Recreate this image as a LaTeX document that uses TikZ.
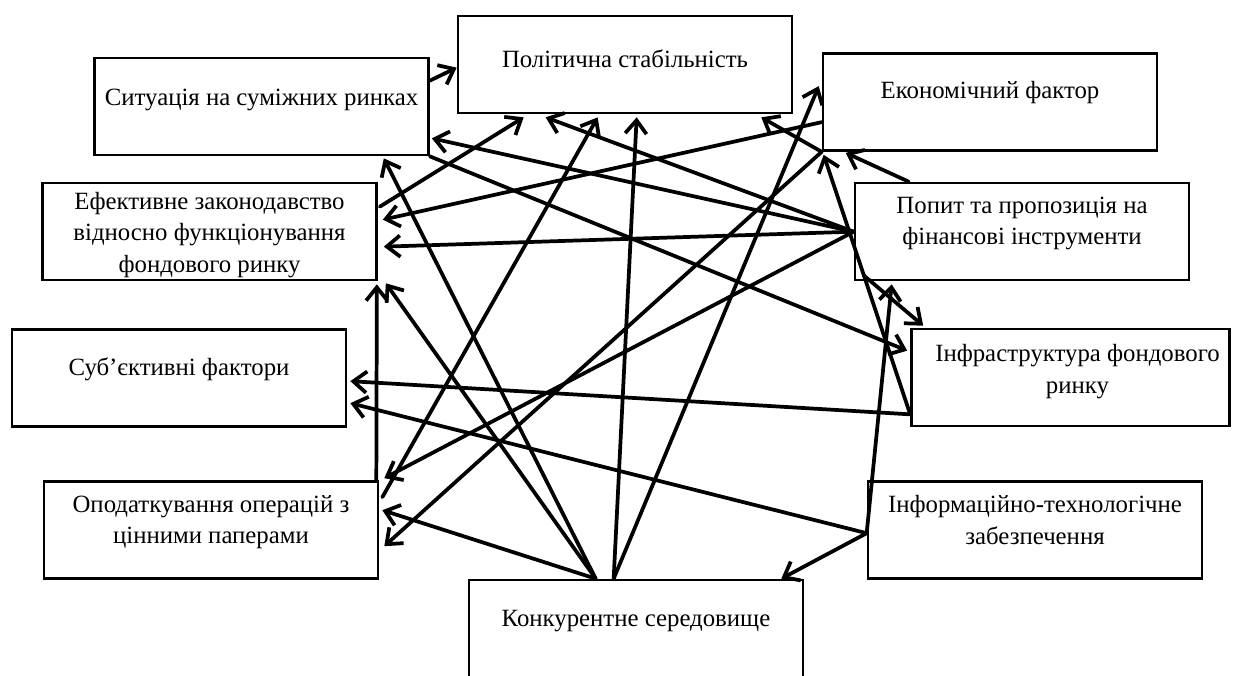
\documentclass[tikz,border=0pt]{standalone}
\usepackage{fontspec}
\setmainfont{Liberation Serif}
\usetikzlibrary{arrows.meta,calc}

\tikzset{every picture/.style={line width=0.75pt}}
\tikzset{
	factor/.style={draw, line width=2pt, inner sep=0pt, minimum width=250.5pt, minimum height=72.75pt},
	caption/.style={align=center, inner sep=0pt, font=\fontsize{18.6}{23.6}\selectfont},
	link/.style={line width=2.8pt, line cap=round, -{Straight Barb[length=10pt,width=16pt]}}}

\begin{document}
\begin{tikzpicture}[x=0.75pt,y=0.75pt,yscale=-1,xscale=1]
	\useasboundingbox (0,0) rectangle (1235,675);
	\clip (0,0) rectangle (1235,675);

	%Shapes: Rectangles
	\node[factor] (sit) at (261.5,106.5) {};
	\node[factor] (pol) at (625,64.5) {};
	\node[factor] (eko) at (990,102) {};
	\node[factor] (ef) at (209.5,231.5) {};
	\node[factor] (pop) at (1022,231.5) {};
	\node[factor] (sub) at (179,378) {};
	\node[factor, minimum width=238.5pt] (infr) at (1070.5,377.5) {};
	\node[factor] (opod) at (211,530) {};
	\node[factor] (inform) at (1035,530) {};
	\node[factor, minimum height=75pt] (konk) at (636,630) {};

	% Text Node
	\node[caption] (sit-t) at ($(sit.north)+(0,43)$) {Ситуація на суміжних ринках};
	% Text Node
	\node[caption] (pol-t) at ($(pol.north)+(0,44)$) {Політична стабільність};
	% Text Node
	\node[caption] (eko-t) at ($(eko.north)+(0,40)$) {Економічний фактор};
	% Text Node
	\node[caption] (ef-t) at ($(ef.north)+(0,53)$) {Ефективне законодавство\\відносно функціонування\\фондового ринку};
	% Text Node
	\node[caption] (pop-t) at ($(pop.north)+(0,42)$) {Попит та пропозиція на\\фінансові інструменти};
	% Text Node
	\node[caption] (sub-t) at ($(sub.north)+(0,41)$) {Суб’єктивні фактори};
	% Text Node
	\node[caption] (infr-t) at ($(infr.north)+(7,44)$) {Інфраструктура фондового\\ринку};
	% Text Node
	\node[caption] (opod-t) at ($(opod.north)+(0,42)$) {Оподаткування операцій з\\цінними паперами};
	% Text Node
	\node[caption] (inform-t) at ($(inform.north)+(0,40)$) {Інформаційно-технологічне\\забезпечення};
	% Text Node
	\node[caption] (konk-t) at ($(konk.north)+(0,42)$) {Конкурентне середовище};

	% where several links meet
	\coordinate (popL) at ($(pop.north west)+(0,50)$);
	\coordinate (konkA) at ($(konk.north west)+(128,0)$);
	\coordinate (konkB) at ($(konk.north west)+(146,0)$);
	\coordinate (infrL) at ($(infr.south west)+(0,-13)$);
	\coordinate (informL) at ($(inform.north west)+(0,53)$);

	%Straight Lines
	\draw[link] ($(sit.north east)+(0,24)$) -- ($(pol.north west)+(0,53)$);
	\draw[link] (popL) -- ($(sit.south east)+(2,-18)$);
	\draw[link] (konkA) -- ($(sit.south east)+(-46,2)$);
	\draw[link] (sit.south east) -- ($(infr.north west)+(-3,23)$);
	\draw[link] ($(ef.north east)+(2,25)$) -- ($(pol.south west)+(67,3)$);
	\draw[link] ($(eko.north west)+(0,70)$) -- ($(ef.north east)+(5,38)$);
	\draw[link] (popL) -- ($(ef.north east)+(6,65)$);
	\draw[link] ($(opod.north east)+(-3,0)$) -- ($(ef.south east)+(-1,3)$);
	\draw[link] (konkA) -- ($(ef.south east)+(8,2)$);
	\draw[link] (konkA) -- ($(opod.north east)+(3,30)$);
	\draw[link] (popL) -- ($(pol.south west)+(89,3)$);
	\draw[link] ($(opod.north east)+(3,17)$) -- ($(pol.south west)+(141,3)$);
	\draw[link] (konkB) -- ($(pol.south west)+(180,3)$);
	\draw[link] (eko.south west) -- ($(pol.south east)+(-32,3)$);
	\draw[link] (konkB) -- ($(eko.north west)+(-3,34)$);
	\draw[link] (infrL) -- ($(eko.south west)+(2,3)$);
	\draw[link] ($(pop.north west)+(55,0)$) -- ($(eko.south west)+(24,1)$);
	\draw[link] (eko.south west) -- ($(opod.north east)+(5,66)$);
	\draw[link] (popL) -- ($(opod.north east)+(5,-2)$);
	\draw[link] (infrL) -- ($(sub.north east)+(3,53)$);
	\draw[link] (informL) -- ($(sub.north east)+(3,75)$);
	\draw[link] (informL) -- ($(konk.north east)+(-23,0)$);
	\draw[link] (informL) -- ($(pop.south west)+(38,3)$);
	\draw[link] ($(pop.south west)+(10,-6)$) -- ($(infr.north west)+(13,-2)$);

\end{tikzpicture}
\end{document}
